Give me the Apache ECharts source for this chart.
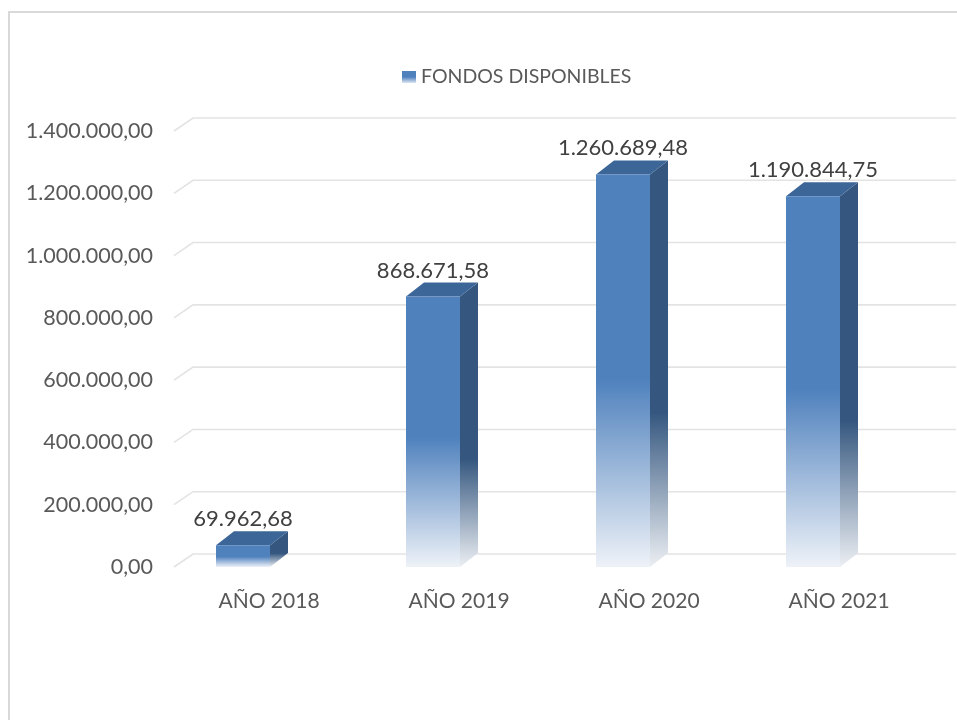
<!DOCTYPE html>
<html><head><meta charset="utf-8">
<script src="https://cdn.jsdelivr.net/npm/echarts@6/dist/echarts.min.js"></script>
<style>html,body{margin:0;padding:0;background:#fff}#c{width:957px;height:720px}</style>
</head><body><div id="c"></div>
<script>
const categories = ['AÑO 2018', 'AÑO 2019', 'AÑO 2020', 'AÑO 2021'];
const fondosDisponibles = [69962.68, 868671.58, 1260689.48, 1190844.75];
const yTicks = [0, 200000, 400000, 600000, 800000, 1000000, 1200000, 1400000];
const seriesName = 'FONDOS DISPONIBLES';

function fmt(v) {
  const parts = Number(v).toFixed(2).split('.');
  return parts[0].replace(/\B(?=(\d{3})+(?!\d))/g, '.') + ',' + parts[1];
}

const chart = echarts.init(document.getElementById('c'));
const FONT = 'Lato';
const frontGrad = () => new echarts.graphic.LinearGradient(0, 0, 0, 1, [
  {offset: 0, color: '#4f81bd'}, {offset: 0.52, color: '#4f81bd'}, {offset: 1, color: '#eef2f8'}]);
const sideGrad = () => new echarts.graphic.LinearGradient(0, 0, 0, 1, [
  {offset: 0, color: '#35577f'}, {offset: 0.62, color: '#35577f'}, {offset: 1, color: '#eceff3'}]);

function renderGrid(params, api) {
  const v = api.value(1);
  const p = api.coord([0, v]);
  const cs = params.coordSys;
  const y = p[1];
  return {
    type: 'polyline', silent: true,
    shape: {points: [[cs.x, y], [cs.x + 19, y - 13], [cs.x + cs.width + 22, y - 13]]},
    style: {stroke: '#e3e3e3', lineWidth: 1.6, fill: null}
  };
}

function renderBar(params, api) {
  const i = api.value(0), v = api.value(1);
  const top = api.coord([i, v]);
  const base = api.coord([i, 0]);
  const cx = top[0];
  const x0 = cx - 53, x1 = cx + 1, yT = top[1], yB = base[1];
  const dx = 18, dy = 14;
  return {
    type: 'group', children: [
      {type: 'polygon', shape: {points: [[x1, yT], [x1 + dx, yT - dy], [x1 + dx, yB - dy], [x1, yB]]}, style: {fill: sideGrad()}},
      {type: 'polygon', shape: {points: [[x0, yT], [x0 + dx, yT - dy], [x1 + dx, yT - dy], [x1, yT]]}, style: {fill: '#3d6698'}},
      {type: 'rect', shape: {x: x0, y: yT, width: x1 - x0, height: yB - yT}, style: {fill: frontGrad()}},
      {type: 'text', style: {text: fmt(v), x: (x0 + x1) / 2, y: yT - 26, align: 'center', verticalAlign: 'middle',
        fontSize: 22, fontFamily: FONT, fill: '#404040'}}
    ]
  };
}

chart.setOption({
  animation: false,
  backgroundColor: '#ffffff',
  graphic: [{type: 'rect', shape: {x: 9, y: 12, width: 1000, height: 800},
    style: {fill: null, stroke: '#d9d9d9', lineWidth: 2}, silent: true}],
  legend: {
    data: [{name: seriesName, icon: 'rect'}],
    left: 397, top: 62, itemWidth: 14, itemHeight: 12,
    textStyle: {fontSize: 19.5, color: '#595959', fontFamily: FONT}
  },
  grid: {left: 174, right: 23, top: 131, bottom: 153},
  xAxis: {
    type: 'category', data: categories,
    axisLine: {show: false}, axisTick: {show: false},
    axisLabel: {fontSize: 21, color: '#595959', fontFamily: FONT, margin: 24}
  },
  yAxis: {
    type: 'value', min: 0, max: 1400000, interval: 200000,
    splitLine: {show: false}, axisLine: {show: false}, axisTick: {show: false},
    axisLabel: {formatter: fmt, fontSize: 21.5, color: '#595959', fontFamily: FONT, margin: 21}
  },
  series: [
    {type: 'custom', name: 'grid', z: 1, silent: true, renderItem: renderGrid,
      data: yTicks.map(t => [0, t]), encode: {x: 0, y: 1}},
    {type: 'custom', name: seriesName, z: 2, renderItem: renderBar,
      itemStyle: {color: new echarts.graphic.LinearGradient(0, 0, 0, 1, [
        {offset: 0, color: '#4f81bd'}, {offset: 0.5, color: '#4f81bd'}, {offset: 1, color: '#dde6f2'}])},
      data: fondosDisponibles.map((v, i) => [i, v]), encode: {x: 0, y: 1}}
  ]
});
</script></body></html>
